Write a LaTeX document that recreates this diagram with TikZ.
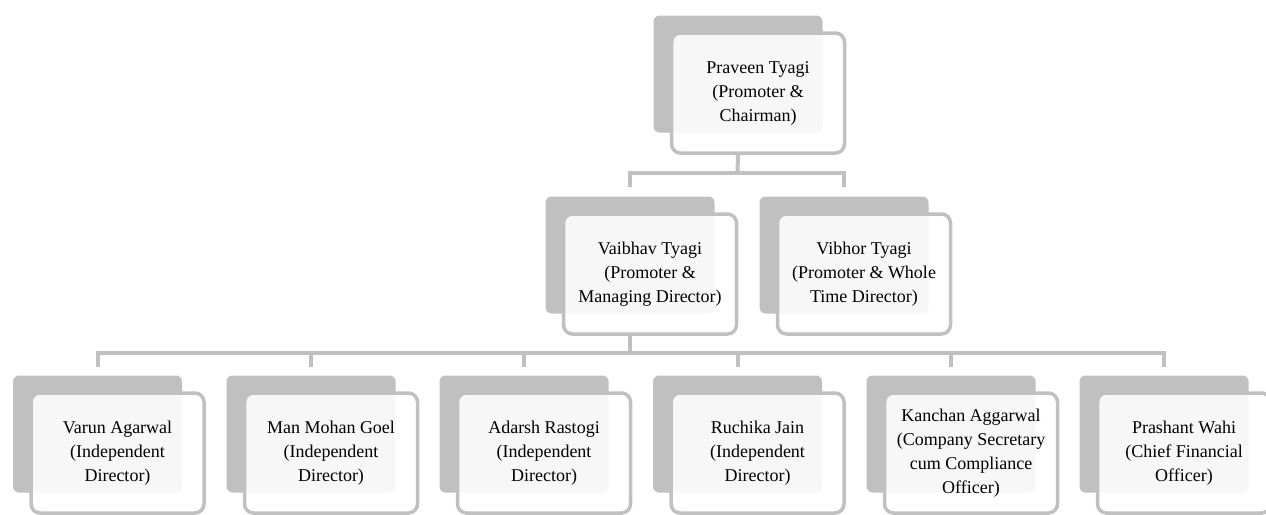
\documentclass[tikz,border=0pt]{standalone}
\usepackage{fontspec}
\setmainfont{Liberation Serif}
\usetikzlibrary{positioning}
\definecolor{boxgray}{RGB}{192,192,192}

\begin{document}
\begin{tikzpicture}[x=1pt,y=-1pt,
  back/.style={rectangle,rounded corners=6pt,fill=boxgray,minimum width=169pt,minimum height=117pt,inner sep=0pt},
  front/.style={rectangle,rounded corners=9pt,draw=boxgray,line width=3.5pt,fill=white,fill opacity=.88,text opacity=1,
    minimum width=173pt,minimum height=120pt,inner sep=0pt,align=center,font=\fontsize{18}{24}\selectfont},
  link/.style={draw=boxgray,line width=4pt}]
%\draw[help lines] (0,0) grid (1266,514);
\useasboundingbox (0,0) rectangle (1266,514);
\coordinate (topbus) at (737.5,173);
\coordinate (lowbus) at (630,353);
% back plates
\node[back] (praveenb) at (738,74) {};
\node[back] (vaibhavb) at (630,255) {};
\node[back] (vibhorb) at (844,255) {};
\node[back] (varunb) at (97.5,434) {};
\node[back] (manmohanb) at (311,434) {};
\node[back] (adarshb) at (524,434) {};
\node[back] (ruchikab) at (737.5,434) {};
\node[back] (kanchanb) at (951,434) {};
\node[back] (prashantb) at (1164,434) {};
% front boxes
\node[front] (praveen) at ([shift={(20,19)}]praveenb) {Praveen Tyagi\\(Promoter \&\\Chairman)};
\node[front] (vaibhav) at ([shift={(20,19)}]vaibhavb) {Vaibhav Tyagi\\(Promoter \&\\Managing Director)};
\node[front] (vibhor) at ([shift={(20,19)}]vibhorb) {Vibhor Tyagi\\(Promoter \& Whole\\Time Director)};
\node[front] (varun) at ([shift={(20,19)}]varunb) {Varun Agarwal\\(Independent\\Director)};
\node[front] (manmohan) at ([shift={(20,19)}]manmohanb) {Man Mohan Goel\\(Independent\\Director)};
\node[front] (adarsh) at ([shift={(20,19)}]adarshb) {Adarsh Rastogi\\(Independent\\Director)};
\node[front] (ruchika) at ([shift={(20,19)}]ruchikab) {Ruchika Jain\\(Independent\\Director)};
\node[front] (kanchan) at ([shift={(20,19)}]kanchanb) {Kanchan Aggarwal\\(Company Secretary\\cum Compliance\\Officer)};
\node[front] (prashant) at ([shift={(20,19)}]prashantb) {Prashant Wahi\\(Chief Financial\\Officer)};
% connectors
\draw[link] (praveenb |- praveen.south) -- (topbus);
\draw[link] ([yshift=9pt]vaibhavb.north) -- (vaibhavb |- topbus) -- (vibhorb |- topbus) -- ([yshift=9pt]vibhorb.north);
\draw[link] (vaibhavb |- vaibhav.south) -- (lowbus);
\draw[link] ([yshift=8pt]varunb.north) -- (varunb |- lowbus) -- (prashantb |- lowbus) -- ([yshift=8pt]prashantb.north);
\draw[link] ([yshift=8pt]manmohanb.north) -- (manmohanb |- lowbus);
\draw[link] ([yshift=8pt]adarshb.north) -- (adarshb |- lowbus);
\draw[link] ([yshift=8pt]ruchikab.north) -- (ruchikab |- lowbus);
\draw[link] ([yshift=8pt]kanchanb.north) -- (kanchanb |- lowbus);
\end{tikzpicture}
\end{document}
